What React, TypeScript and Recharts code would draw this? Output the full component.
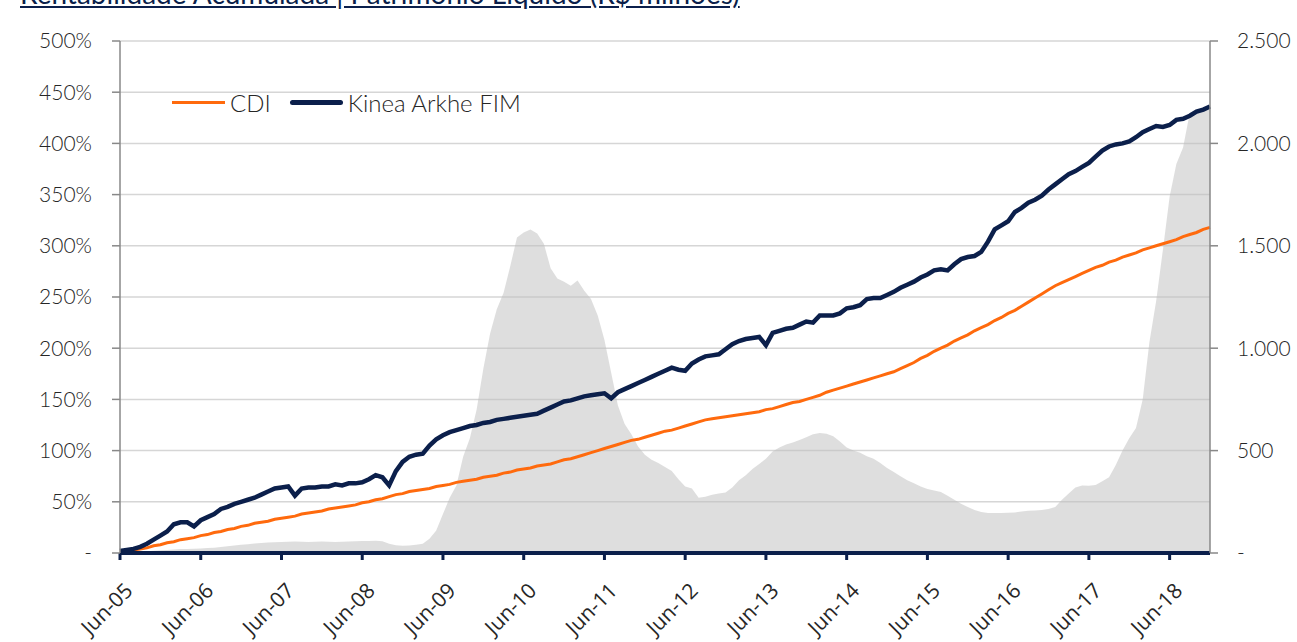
import React from "react";
import {
  ComposedChart,
  Area,
  Line,
  XAxis,
  YAxis,
  CartesianGrid,
} from "recharts";

// monthly, Jun-05 .. Dec-18
const MONTH_NAMES = ["Jan", "Feb", "Mar", "Apr", "May", "Jun", "Jul", "Aug", "Sep", "Oct", "Nov", "Dec"];
const dates: string[] = Array.from({ length: 163 }, (_, i) => {
  const m = (5 + i) % 12;
  const y = 5 + Math.floor((5 + i) / 12);
  return `${MONTH_NAMES[m]}-${String(y).padStart(2, "0")}`;
});

const cdi = [
  0, 1, 3, 4, 5, 7, 8, 10, 11, 13, 14, 15, 17, 18, 20, 21, 23, 24, 26, 27, 29, 30, 31, 33, 34, 35, 36, 38, 39, 40,
  41, 43, 44, 45, 46, 47, 49, 50, 52, 53, 55, 57, 58, 60, 61, 62, 63, 65, 66, 67, 69, 70, 71, 72, 74, 75, 76, 78, 79, 81,
  82, 83, 85, 86, 87, 89, 91, 92, 94, 96, 98, 100, 102, 104, 106, 108, 110, 111, 113, 115, 117, 119, 120, 122, 124, 126, 128, 130, 131, 132,
  133, 134, 135, 136, 137, 138, 140, 141, 143, 145, 147, 148, 150, 152, 154, 157, 159, 161, 163, 165, 167, 169, 171, 173, 175, 177, 180, 183, 186, 190,
  193, 197, 200, 203, 207, 210, 213, 217, 220, 223, 227, 230, 234, 237, 241, 245, 249, 253, 257, 261, 264, 267, 270, 273, 276, 279, 281, 284, 286, 289,
  291, 293, 296, 298, 300, 302, 304, 306, 309, 311, 313, 316, 318,
];

const kinea = [
  2, 3, 4, 6, 9, 13, 17, 21, 28, 30, 30, 26, 32, 35, 38, 43, 45, 48, 50, 52, 54, 57, 60, 63, 64, 65, 56, 63, 64, 64,
  65, 65, 67, 66, 68, 68, 69, 72, 76, 74, 66, 80, 89, 94, 96, 97, 105, 111, 115, 118, 120, 122, 124, 125, 127, 128, 130, 131, 132, 133,
  134, 135, 136, 139, 142, 145, 148, 149, 151, 153, 154, 155, 156, 151, 157, 160, 163, 166, 169, 172, 175, 178, 181, 179, 178, 185, 189, 192, 193, 194,
  199, 204, 207, 209, 210, 211, 203, 215, 217, 219, 220, 223, 226, 225, 232, 232, 232, 234, 239, 240, 242, 248, 249, 249, 252, 255, 259, 262, 265, 269,
  272, 276, 277, 276, 282, 287, 289, 290, 294, 304, 316, 320, 324, 333, 337, 342, 345, 349, 355, 360, 365, 370, 373, 377, 381, 387, 393, 397, 399, 400,
  402, 406, 411, 414, 417, 416, 418, 423, 424, 427, 431, 433, 436,
];

// Patrimônio Líquido (R$ milhões)
const pl = [
  2, 3, 5, 7, 9, 11, 13, 15, 17, 19, 20, 21, 22, 24, 26, 29, 33, 37, 40, 43, 46, 49, 51, 53, 54, 55, 56, 55, 54, 55,
  56, 55, 54, 55, 56, 57, 58, 59, 60, 57, 45, 38, 36, 37, 40, 45, 70, 110, 190, 270, 330, 470, 560, 700, 900, 1070, 1190, 1270, 1400, 1540,
  1565, 1580, 1560, 1510, 1390, 1340, 1325, 1305, 1330, 1280, 1240, 1160, 1040, 880, 720, 630, 580, 520, 480, 455, 440, 420, 400, 360, 325, 315, 270, 275, 285, 290,
  295, 320, 355, 380, 410, 435, 460, 495, 515, 530, 540, 552, 565, 580, 586, 582, 570, 545, 515, 500, 490, 472, 460, 440, 415, 395, 375, 355, 340, 325,
  312, 305, 298, 280, 260, 240, 225, 210, 200, 195, 195, 195, 196, 198, 203, 206, 208, 210, 215, 225, 260, 290, 320, 330, 328, 332, 350, 370, 430, 500,
  560, 610, 750, 1030, 1230, 1480, 1740, 1900, 1980, 2150, 2160, 2170, 2180,
];

const LEFT_TICKS = [0, 50, 100, 150, 200, 250, 300, 350, 400, 450, 500];
const RIGHT_TICKS = [0, 500, 1000, 1500, 2000, 2500];

const data = dates.map((d, i) => ({ date: d, cdi: cdi[i], kinea: kinea[i], pl: pl[i] }));

const NAVY = "#0B1F4B";
const ORANGE = "#FF6A0D";
const TXT = "#262626";
const FONT = "Lato, 'Open Sans', sans-serif";

const XTick = ({ x, y, payload }: any) => (
  <text
    x={x + 14}
    y={y + 30}
    transform={`rotate(-45 ${x + 14} ${y + 30})`}
    textAnchor="end"
    fill={TXT}
    fontSize={21}
    fontFamily="'Open Sans', sans-serif"
  >
    {payload.value}
  </text>
);

const fmtRight = (v: number) => (v === 0 ? "-" : v.toLocaleString("de-DE"));

export default function App() {
  return (
    <div style={{ position: "absolute", left: 0, top: 0, width: 1297, height: 642, background: "#fff", overflow: "hidden" }}>
      <div
        style={{
          position: "absolute",
          left: 20,
          top: -23,
          fontFamily: FONT,
          fontSize: 28,
          lineHeight: "32px",
          color: NAVY,
          textDecoration: "underline",
          whiteSpace: "nowrap",
        }}
      >
        Rentabilidade Acumulada | Patrimônio Líquido (R$ milhões)
      </div>
      <ComposedChart width={1297} height={642} data={data} margin={{ top: 41, right: 0, bottom: 0, left: 0 }}>
        <CartesianGrid vertical={false} stroke="#d6d6d6" strokeWidth={1.5} yAxisId="left" />
        <XAxis
          dataKey="date"
          interval={11}
          height={89}
          tick={<XTick />}
          tickSize={7}
          tickLine={{ stroke: NAVY, strokeWidth: 3 }}
          axisLine={{ stroke: NAVY, strokeWidth: 4 }}
        />
        <YAxis
          yAxisId="left"
          width={120}
          domain={[0, 500]}
          ticks={LEFT_TICKS}
          tickFormatter={(v: number) => (v === 0 ? "-" : `${v}%`)}
          tickSize={8}
          tickMargin={20}
          tick={{ fill: TXT, fontSize: 21, fontFamily: FONT, fontWeight: 300 }}
          tickLine={{ stroke: "#888", strokeWidth: 1.5 }}
          axisLine={{ stroke: "#888", strokeWidth: 1.5 }}
        />
        <YAxis
          yAxisId="right"
          orientation="right"
          width={87}
          domain={[0, 2500]}
          ticks={RIGHT_TICKS}
          tickFormatter={fmtRight}
          tickSize={8}
          tickMargin={19}
          tick={{ fill: TXT, fontSize: 21, fontFamily: FONT, fontWeight: 300, textAnchor: "start" }}
          tickLine={{ stroke: "#888", strokeWidth: 1.5 }}
          axisLine={{ stroke: "#888", strokeWidth: 1.5 }}
        />
        <Area
          yAxisId="right"
          dataKey="pl"
          name="Patrimônio Líquido"
          type="linear"
          stroke="none"
          fill="#bdbdbd"
          fillOpacity={0.5}
          isAnimationActive={false}
        />
        <Line
          yAxisId="left"
          dataKey="cdi"
          name="CDI"
          type="linear"
          stroke={ORANGE}
          strokeWidth={3}
          dot={false}
          isAnimationActive={false}
        />
        <Line
          yAxisId="left"
          dataKey="kinea"
          name="Kinea Arkhe FIM"
          type="linear"
          stroke={NAVY}
          strokeWidth={4.5}
          dot={false}
          isAnimationActive={false}
        />
      </ComposedChart>
      <div
        style={{
          position: "absolute",
          left: 172,
          top: 88,
          display: "flex",
          alignItems: "center",
          fontFamily: FONT,
          fontWeight: 300,
          fontSize: 24,
          color: TXT,
          whiteSpace: "nowrap",
        }}
      >
        <span style={{ width: 53, height: 3, background: ORANGE, display: "inline-block", marginRight: 5 }} />
        <span style={{ marginRight: 19 }}>CDI</span>
        <span style={{ width: 53, height: 5, background: NAVY, borderRadius: 3, display: "inline-block", marginRight: 5 }} />
        <span>Kinea Arkhe FIM</span>
      </div>
    </div>
  );
}
